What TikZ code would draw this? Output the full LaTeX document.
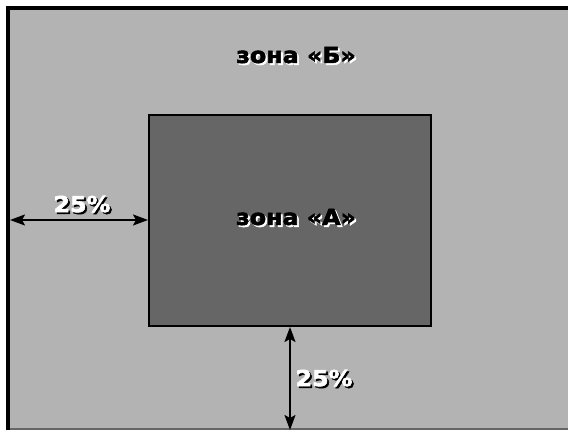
\documentclass[tikz,border=0pt]{standalone}
\usepackage{fontspec}
\setmainfont{DejaVu Sans}
\newfontfamily\heavyfont[FakeBold=2.5,FakeStretch=1.08]{DejaVu Sans Bold}
\usetikzlibrary{arrows.meta}
\definecolor{zoneB}{HTML}{B3B3B3}
\definecolor{zoneA}{HTML}{666666}
\newcommand\shtext[3]{\rlap{\hspace{1.8pt}\raisebox{-1.8pt}{\color{#2}#1}}{\color{#3}#1}}
\tikzset{
  zonelabel/.style={font=\heavyfont\fontsize{22}{26}\selectfont, inner sep=0pt},
  pctlabel/.style={font=\heavyfont\fontsize{22}{26}\selectfont, inner sep=0pt},
  dimarrow/.style={line width=2pt, {Stealth[length=15pt,width=11pt,inset=3pt]}-{Stealth[length=15pt,width=11pt,inset=3pt]}},
  zonebox/.style={draw=black, line width=2pt, fill=zoneA, inner sep=0pt, minimum width=282pt, minimum height=211pt}
}
\begin{document}
\begin{tikzpicture}[x=1pt,y=1pt]
\useasboundingbox (0,0) rectangle (568,430);
\fill[white] (0,0) rectangle (568,430);
\fill[zoneB] (8,0) rectangle (568,422);
\draw[black, line width=4pt] (8,0) -- (8,422) -- (568,422);
\draw[gray!80!black, line width=2pt] (10,1) -- (568,1);
\node[zonebox] (A) at (290,209.5) {};
\node[zonelabel] (lblB) at (296,374) {\shtext{зона «Б»}{white}{black}};
\node[zonelabel] (lblA) at (296,212) {\shtext{зона «А»}{white}{black}};
\coordinate (leftend) at (10,210);
\coordinate (botend) at (290,0);
\draw[dimarrow] (leftend) -- (A.west |- leftend);
\draw[dimarrow] (A.south -| botend) -- (botend);
\node[pctlabel] (pct1) at (82,225) {\shtext{25\%}{black}{white}};
\node[pctlabel] (pct2) at (324,51) {\shtext{25\%}{black}{white}};
\end{tikzpicture}
\end{document}
